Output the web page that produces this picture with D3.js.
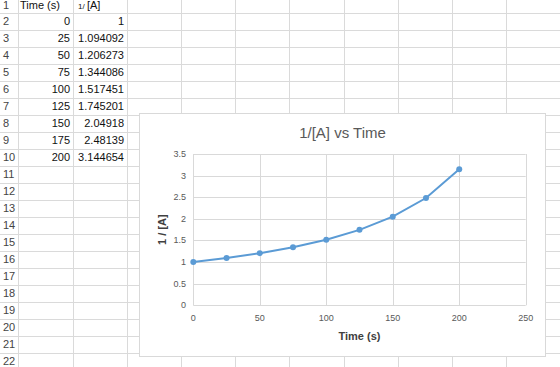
<!DOCTYPE html>
<html lang="en">
<head>
    <meta charset="UTF-8">
    <title>1/[A] vs Time</title>
    <script src="https://d3js.org/d3.v7.min.js"></script>
    <style>
        body { margin: 0; background: #fff; }
        svg { display: block; font-family: "Liberation Sans", Arial, sans-serif; }
        .cellline { stroke: #dadada; stroke-width: 1px; }
        .rownum { font-size: 11px; fill: #444; }
        .cell { font-size: 11px; fill: #111; }
        .grid line { stroke: #d9d9d9; stroke-width: 1px; }
        .tick-label { font-size: 9px; fill: #595959; }
        .series { fill: none; stroke: #5b9bd5; stroke-width: 2px; }
        .dot { fill: #5b9bd5; }
    </style>
</head>
<body>
    <div id="sheet"></div>
    <script>
        // data as shown in the sheet
        const time = [0, 25, 50, 75, 100, 125, 150, 175, 200];
        const invA = [1, 1.094092, 1.206273, 1.344086, 1.517451, 1.745201, 2.04918, 2.48139, 3.144654];
        const xTicks = [0, 50, 100, 150, 200, 250];
        const yTicks = [0, 0.5, 1, 1.5, 2, 2.5, 3, 3.5];

        const width = 560, height = 367;
        const svg = d3.select("#sheet").append("svg")
            .attr("width", width).attr("height", height);

        // spreadsheet grid
        const rowH = 16.98, rowTop = 13 - rowH;
        const colX = [17.5, 72.5];
        for (let i = 1; colX[colX.length - 1] < width; i++) colX.push(72.5 + i * 54.2);

        const rows = d3.range(1, 23);
        svg.selectAll(".hline").data(rows).join("line")
            .attr("class", "cellline")
            .attr("x1", 0).attr("x2", width)
            .attr("y1", r => Math.round(rowTop + r * rowH) + 0.5)
            .attr("y2", r => Math.round(rowTop + r * rowH) + 0.5);
        svg.selectAll(".vline").data(colX).join("line")
            .attr("class", "cellline")
            .attr("y1", 0).attr("y2", height)
            .attr("x1", d => Math.round(d) + 0.5).attr("x2", d => Math.round(d) + 0.5);

        const rowY = r => rowTop + (r - 1) * rowH + rowH / 2 + 4;
        svg.selectAll(".rownum").data(rows).join("text")
            .attr("class", "rownum")
            .attr("x", 3).attr("y", r => rowY(r))
            .text(r => r);

        svg.append("text").attr("class", "cell").attr("x", 20).attr("y", rowY(1)).text("Time (s)");
        const hdr = svg.append("text").attr("class", "cell").attr("x", 78).attr("y", rowY(1));
        hdr.append("tspan").attr("font-size", "8px").text("1/ ");
        hdr.append("tspan").text("[A]");

        svg.selectAll(".tcell").data(time).join("text")
            .attr("class", "cell").attr("text-anchor", "end")
            .attr("x", 70).attr("y", (d, i) => rowY(i + 2))
            .text(d => d);
        svg.selectAll(".acell").data(invA).join("text")
            .attr("class", "cell").attr("text-anchor", "end")
            .attr("x", 124).attr("y", (d, i) => rowY(i + 2))
            .text(d => String(d));

        // chart object
        svg.append("rect")
            .attr("x", 139.5).attr("y", 113.5).attr("width", 406).attr("height", 243)
            .attr("fill", "#fff").attr("stroke", "#d9d9d9");

        const x = d3.scaleLinear().domain([0, 250]).range([193.3, 525.7]);
        const y = d3.scaleLinear().domain([0, 3.5]).range([305.3, 154]);

        const grid = svg.append("g").attr("class", "grid");
        grid.selectAll(".gy").data(yTicks).join("line")
            .attr("x1", x(0)).attr("x2", x(250))
            .attr("y1", d => Math.round(y(d)) + 0.5).attr("y2", d => Math.round(y(d)) + 0.5);
        grid.selectAll(".gx").data(xTicks).join("line")
            .attr("y1", y(0)).attr("y2", y(3.5))
            .attr("x1", d => Math.round(x(d)) + 0.5).attr("x2", d => Math.round(x(d)) + 0.5);

        svg.selectAll(".ylab").data(yTicks).join("text")
            .attr("class", "tick-label").attr("text-anchor", "end")
            .attr("x", 186).attr("y", d => y(d) + 3)
            .text(d => d);
        svg.selectAll(".xlab").data(xTicks).join("text")
            .attr("class", "tick-label").attr("text-anchor", "middle")
            .attr("x", d => x(d)).attr("y", 321)
            .text(d => d);

        svg.append("text")
            .attr("x", 342.5).attr("y", 138)
            .attr("text-anchor", "middle")
            .attr("font-size", "15px").attr("fill", "#595959")
            .text("1/[A] vs Time");

        svg.append("text")
            .attr("x", 359.5).attr("y", 340)
            .attr("text-anchor", "middle")
            .attr("font-size", "11px").attr("font-weight", "bold").attr("fill", "#404040")
            .text("Time (s)");

        svg.append("text")
            .attr("transform", "translate(166,229.6) rotate(-90)")
            .attr("text-anchor", "middle")
            .attr("font-size", "11px").attr("font-weight", "bold").attr("fill", "#404040")
            .text("1 / [A]");

        const pts = time.map((t, i) => ({ t: t, v: invA[i] }));
        svg.append("path")
            .datum(pts)
            .attr("class", "series")
            .attr("d", d3.line().x(d => x(d.t)).y(d => y(d.v)));
        svg.selectAll(".dot").data(pts).join("circle")
            .attr("class", "dot")
            .attr("cx", d => x(d.t)).attr("cy", d => y(d.v)).attr("r", 3);
    </script>
</body>
</html>
